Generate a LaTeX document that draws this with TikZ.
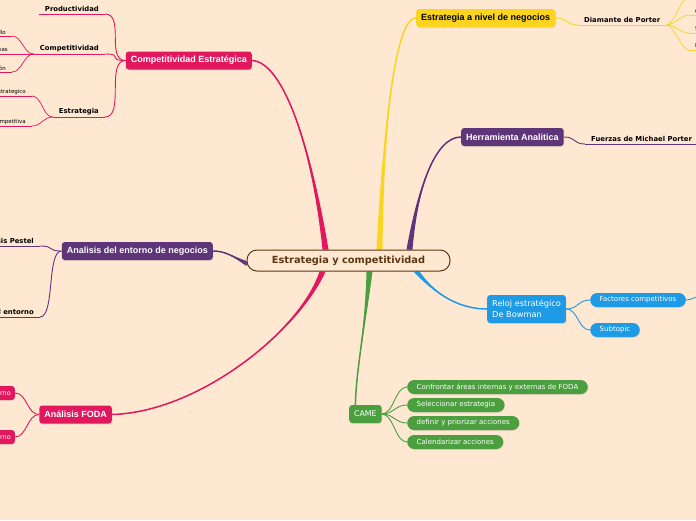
\documentclass[tikz,border=0pt]{standalone}
\usepackage{fontspec}
\setmainfont{DejaVu Sans}
\newfontfamily\cajafont{Liberation Sans}
\usetikzlibrary{calc,backgrounds,shadows}
\definecolor{fondo}{HTML}{FEE8D2}
\definecolor{carmin}{HTML}{E2185F}
\definecolor{morado}{HTML}{5F357A}
\definecolor{amarillo}{HTML}{FAD41E}
\definecolor{azul}{HTML}{1F9BE6}
\definecolor{verde}{HTML}{4B9F3E}
\definecolor{cafe}{HTML}{5B3711}
% rama principal con grosor decreciente
\newcommand{\ramaprincipal}[6]{\fill[#1]($(#2)+#3$)..controls #4 and #5..(#6)..controls #5 and #4..($(#2)-#3$)--cycle;
\draw[#1,line width=1.5pt](#2)..controls #4 and #5..(#6);}
\tikzset{
centro/.style={draw=cafe,line width=1pt,fill=fondo,rounded corners=10pt,minimum width=203pt,minimum height=21pt,text=cafe,font=\bfseries\fontsize{9.8}{11}\selectfont},
sombra/.style={drop shadow={opacity=0.18,shadow xshift=0.6pt,shadow yshift=-1pt}},
tema/.style={sombra,rounded corners=3pt,minimum height=18pt,inner xsep=5pt,inner ysep=2pt,text=white,font=\cajafont\bfseries\fontsize{9}{10}\selectfont},
caja/.style={sombra,rounded corners=3pt,minimum height=14pt,inner xsep=4pt,inner ysep=0pt,text=white,font=\fontsize{6.5}{8}\selectfont},
etiqueta/.style={inner xsep=6pt,inner ysep=2pt,font=\bfseries\fontsize{6.85}{8}\selectfont},
hoja/.style={inner xsep=6pt,inner ysep=1.5pt,font=\fontsize{5.5}{7}\selectfont},
pastilla/.style={sombra,rounded corners=7pt,minimum height=14pt,inner xsep=9.5pt,inner ysep=0pt,text=white,font=\fontsize{7}{8}\selectfont},
lin/.style={line width=0.9pt},
sublin/.style={line width=0.7pt}}
\begin{document}
\begin{tikzpicture}[x=1pt,y=-1pt]
\useasboundingbox(0,0)rectangle(696,520);
\clip(0,0)rectangle(696,520);
\node[centro](cen)at(348.5,260.5){Estrategia y competitividad};
\node[tema,fill=carmin,anchor=east](ce)at(252,60.5){Competitividad Estratégica};
\node[tema,fill=morado,anchor=east](ent)at(213,251){Analisis del entorno de negocios};
\node[tema,fill=carmin,anchor=east](foda)at(112,414.5){Análisis FODA};
\node[tema,fill=amarillo,text=black,anchor=west](eniv)at(416,18){Estrategia a nivel de negocios};
\node[tema,fill=morado,anchor=west](herr)at(461,137){Herramienta Analitica};
\node[tema,fill=azul,anchor=west,align=left,minimum height=28pt,font=\fontsize{8.2}{10.5}\selectfont](reloj)at(487,309){Reloj estratégico\\De Bowman};
\node[tema,fill=verde,anchor=west,font=\fontsize{7.8}{9}\selectfont](came)at(349,414){CAME};
\begin{scope}[on background layer]
\fill[fondo](0,0)rectangle(696,520);
\coordinate(b1)at([xshift=-23pt]cen.north);\coordinate(b2)at([yshift=-3pt]cen.west);
\coordinate(b3)at([xshift=-26pt]cen.south);\coordinate(b4)at([xshift=31pt]cen.north);
\coordinate(b5)at([xshift=61pt]cen.north);\coordinate(b6)at([xshift=68pt]cen.south);
\coordinate(b7)at([xshift=21pt]cen.south);\coordinate(c7)at([xshift=-10pt]came.north);
\ramaprincipal{carmin}{b1}{(3,0)}{(312,150)}{(284,62)}{ce.east}
\ramaprincipal{morado}{b2}{(0,2.5)}{(232,256)}{(225,251)}{ent.east}
\ramaprincipal{carmin}{b3}{(3,0)}{(300,330)}{(200,412)}{foda.east}
\ramaprincipal{amarillo}{b4}{(3,0)}{(384,110)}{(397,18)}{eniv.west}
\ramaprincipal{morado}{b5}{(3,0)}{(418,185)}{(436,137)}{herr.west}
\ramaprincipal{azul}{b6}{(3,0)}{(440,300)}{(465,309)}{reloj.west}
\ramaprincipal{verde}{b7}{(3,0)}{(365,330)}{(356,370)}{c7}
\end{scope}
% Competitividad Estrategica
\node[etiqueta,anchor=south east](prod)at(105,14){Productividad};
\node[etiqueta,anchor=south east](comp)at(105,54){Competitividad};
\node[etiqueta,anchor=south east](estr)at(105,117){Estrategia};
\foreach \n in {prod,comp,estr}{\draw[lin,carmin](ce.west)..controls +(-20,0) and +(20,0)..(\n.south east);
\draw[lin,carmin](\n.south west)--(\n.south east);}
\node[hoja,anchor=south east](c1)at(12,36){Desarrollo};
\node[hoja,anchor=south east](c2)at(14,54){Ventajas competitivas};
\node[hoja,anchor=south east](c3)at(12,72){Innovación};
\node[hoja,anchor=south east](e1)at(32,96){Pensamiento estrategico};
\node[hoja,anchor=south east](e2)at(32,126){Ventaja competitiva};
\foreach \n in {c1,c2,c3}{\draw[sublin,carmin](comp.south west)..controls +(-10,0) and +(10,0)..(\n.south east);
\draw[sublin,carmin](\n.south west)--(\n.south east);}
\foreach \n in {e1,e2}{\draw[sublin,carmin](estr.south west)..controls +(-10,0) and +(10,0)..(\n.south east);
\draw[sublin,carmin](\n.south west)--(\n.south east);}
% entorno
\node[etiqueta,anchor=south east](pest)at(40,246){Analisis Pestel};
\node[etiqueta,anchor=south east](entn)at(40,317){Análisis del entorno};
\foreach \n in {pest,entn}{\draw[lin,morado](ent.west)..controls +(-15,0) and +(15,0)..(\n.south east);
\draw[lin,morado](\n.south west)--(\n.south east);}
% FODA
\node[caja,fill=carmin,anchor=east](fint)at(15,393){Análisis interno};
\node[caja,fill=carmin,anchor=east](fext)at(15,437){Análisis externo};
\foreach \n in {fint,fext}\draw[lin,carmin](foda.west)..controls +(-12,0) and +(12,0)..(\n.east);
% Estrategia a nivel de negocios
\node[etiqueta,anchor=south west](diam)at(578,25){Diamante de Porter};
\draw[lin,amarillo](eniv.east)..controls +(12,0) and +(-12,0)..(diam.south west);
\draw[lin,amarillo](diam.south west)--(diam.south east);
\node[hoja,anchor=south west](d1)at(689,-3){Condiciones de los factores};
\node[hoja,anchor=south west](d2)at(689,15){Condiciones de la demanda};
\node[hoja,anchor=south west](d3)at(689,33){Sectores afines y de apoyo};
\node[hoja,anchor=south west](d4)at(689,50){Estrategia, estructura y rivalidad};
\foreach \n in {d1,d2,d3,d4}{\draw[sublin,amarillo](diam.south east)..controls +(8,0) and +(-8,0)..(\n.south west);
\draw[sublin,amarillo](\n.south west)--(\n.south east);}
% Herramienta
\node[etiqueta,anchor=south west](fuer)at(585,144){Fuerzas de Michael Porter};
\draw[lin,morado](herr.east)..controls +(12,0) and +(-12,0)..(fuer.south west);
\draw[lin,morado](fuer.south west)--(fuer.south east);
% Reloj
\node[pastilla,fill=azul,anchor=west](fact)at(590,300){Factores competitivos};
\node[pastilla,fill=azul,anchor=west](subt)at(590,330){Subtopic};
\foreach \n in {fact,subt}\draw[lin,azul](reloj.east)..controls +(12,0) and +(-12,0)..(\n.west);
\coordinate(fh)at(702,296);
\draw[lin,azul](fact.east)..controls +(6,0) and +(-6,0)..(fh);
% CAME
\node[pastilla,fill=verde,anchor=west](p1)at(407,387){Confrontar áreas internas y externas de FODA};
\node[pastilla,fill=verde,anchor=west](p2)at(407,405){Seleccionar estrategia};
\node[pastilla,fill=verde,anchor=west](p3)at(407,423){definir y priorizar acciones};
\node[pastilla,fill=verde,anchor=west](p4)at(407,442){Calendarizar acciones};
\foreach \n in {p1,p2,p3,p4}\draw[lin,verde](came.east)..controls +(12,0) and +(-12,0)..(\n.west);
\end{tikzpicture}
\end{document}
